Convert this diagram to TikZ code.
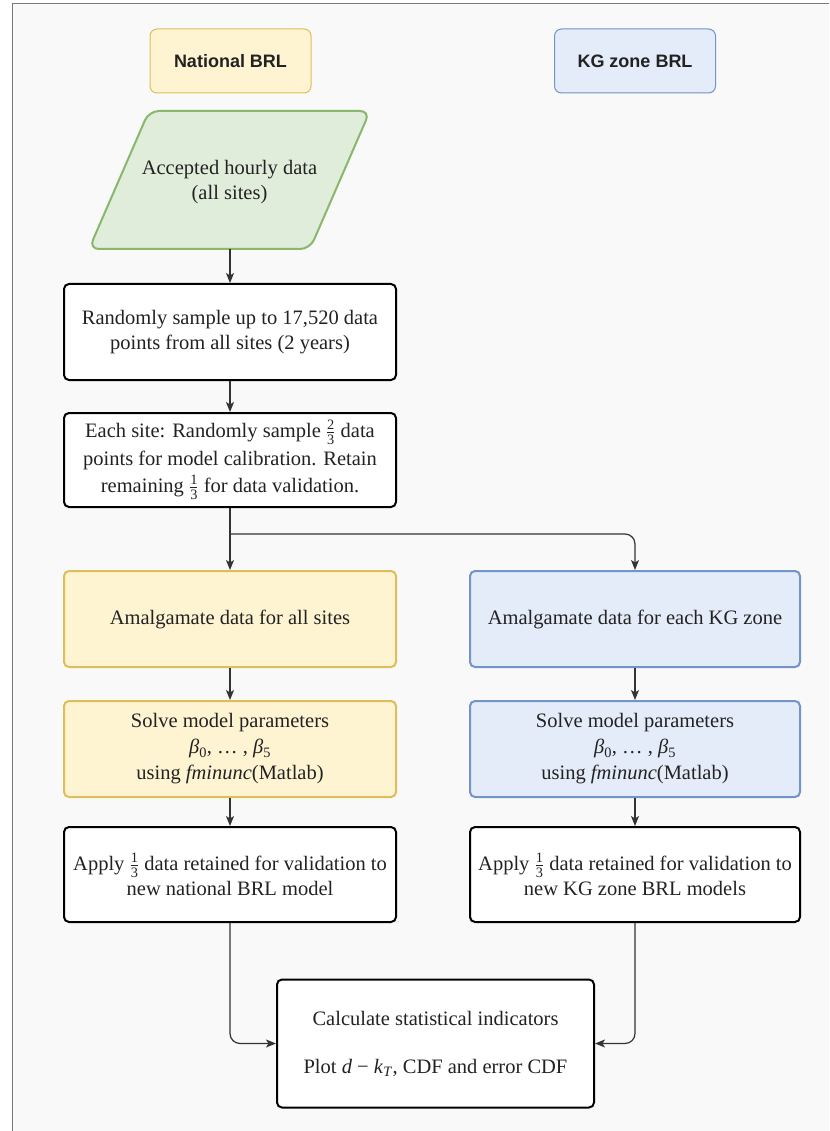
\documentclass[tikz,border=0pt]{standalone}
\usepackage{amsmath}
\usepackage{fontspec}
\setmainfont{Liberation Serif}
\newfontfamily\hfont{Liberation Sans}
\usetikzlibrary{arrows.meta}
\definecolor{bgc}{HTML}{F9F9F9}
\definecolor{frame}{HTML}{7A7A7A}
\definecolor{yfill}{HTML}{FFF4D2}
\definecolor{ydraw}{HTML}{DDBE5A}
\definecolor{bfill}{HTML}{E4ECF9}
\definecolor{bdraw}{HTML}{7394C6}
\definecolor{gfill}{HTML}{E1EDDB}
\definecolor{gdraw}{HTML}{89B76B}
\definecolor{ink}{HTML}{222222}
\definecolor{wire}{HTML}{333333}
\newcommand{\fr}[2]{$\frac{\text{#1}}{\text{#2}}$}
\newcommand{\betas}{\textit{β}\textsubscript{0}, … , \textit{β}\textsubscript{5}}
\begin{document}
\begin{tikzpicture}[x=1pt,y=-1pt,
  txt/.style={align=center, text=ink, font=\fontsize{20.5}{25}\selectfont, inner sep=0pt},
  box/.style={txt, draw=black, line width=2pt, rounded corners=5pt, fill=white,
              minimum width=332pt, minimum height=96pt},
  ybox/.style={box, draw=ydraw, fill=yfill},
  bbox/.style={box, draw=bdraw, fill=bfill, minimum width=330pt},
  head/.style={draw, line width=1pt, rounded corners=7pt, minimum width=161pt,
               minimum height=64pt, inner sep=0pt, text=ink,
               font=\hfont\bfseries\fontsize{18}{22}\selectfont},
  arr/.style={draw=wire, line width=1.2pt, -{Stealth[length=10pt,width=8pt,inset=2.5pt]}}
]
\useasboundingbox (0,0) rectangle (829,1131);
\fill[white] (0,0) rectangle (829,1131);
\fill[bgc] (12.5,3.5) rectangle (829,1131);
\draw[frame, line width=1.5pt] (12.5,1131) -- (12.5,3.5) -- (829,3.5);

\node[head, draw=ydraw, fill=yfill] (nat) at (230.5,61) {National BRL};
\node[head, draw=bdraw, fill=bfill] (kg) at (635,61) {KG zone BRL};

\draw[draw=gdraw, fill=gfill, line width=2pt, rounded corners=10pt]
  (89,249) -- (149,111) -- (370,111) -- (310,249) -- cycle;
\node[txt] (acc) at (229.5,182) {Accepted hourly data\\(all sites)};
\coordinate (accb) at (230,249);

\node[box] (samp) at (230,332) {Randomly sample up to 17,520 data\\points from all sites (2 years)};
\node[box, minimum height=94pt, font=\fontsize{20.5}{27.5}\selectfont] (each) at (230,460)
  {Each site: Randomly sample \fr{2}{3} data\\points for model calibration. Retain\\remaining \fr{1}{3} for data validation.};

\node[ybox] (amN) at (230,619) {Amalgamate data for all sites};
\node[bbox] (amK) at (635,619) {Amalgamate data for each KG zone};

\node[ybox, font=\fontsize{20.5}{26}\selectfont] (solN) at (230,749) {Solve model parameters\\\betas\\using \textit{fminunc}(Matlab)};
\node[bbox, font=\fontsize{20.5}{26}\selectfont] (solK) at (635,749) {Solve model parameters\\\betas\\using \textit{fminunc}(Matlab)};

\node[box, minimum height=95pt] (appN) at (230,874.5) {Apply \fr{1}{3} data retained for validation to\\new national BRL model};
\node[box, minimum height=95pt, minimum width=330pt] (appK) at (635,874.5) {Apply \fr{1}{3} data retained for validation to\\new KG zone BRL models};

\node[box, minimum width=317pt, minimum height=128pt] (calc) at (435.5,1043.5)
  {Calculate statistical indicators\\[23pt]Plot \textit{d} − \textit{k}\textsubscript{\textit{T}}, CDF and error CDF};

\draw[arr] (accb) -- (samp.north);
\draw[arr] (samp) -- (each);
\draw[arr] (each) -- (amN);
\coordinate (split) at (230,534);
\draw[arr, rounded corners=10pt] (split) -| (amK.north);
\draw[arr] (amN) -- (solN);
\draw[arr] (amK) -- (solK);
\draw[arr] (solN) -- (appN);
\draw[arr] (solK) -- (appK);
\draw[arr, rounded corners=10pt] (appN.south) |- (calc.west);
\draw[arr, rounded corners=10pt] (appK.south) |- (calc.east);
\end{tikzpicture}
\end{document}
